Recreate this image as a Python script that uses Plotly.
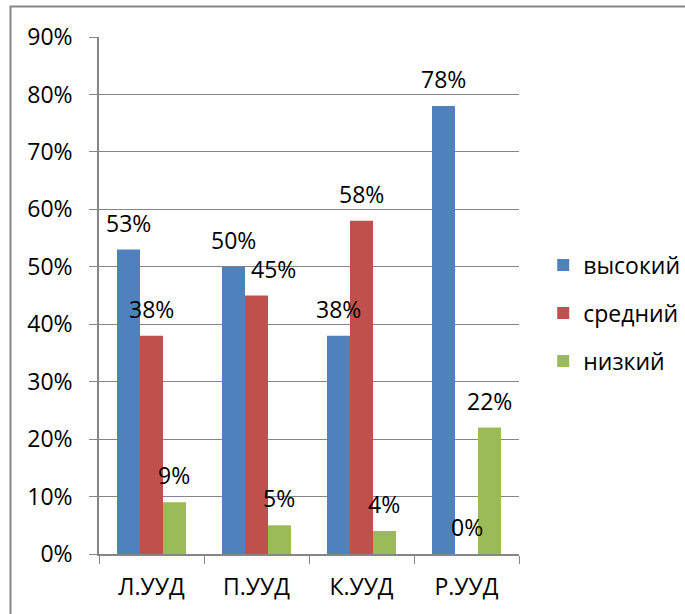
import plotly.graph_objects as go

categories = ["Л.УУД", "П.УУД", "К.УУД", "Р.УУД"]
vysokiy = [53, 50, 38, 78]
sredniy = [38, 45, 58, 0]
nizkiy = [9, 5, 4, 22]
series_names = ["высокий", "средний", "низкий"]

colors = ["#4F81BD", "#C0504D", "#9BBB59"]
font = "Open Sans"
grid = "#868686"

W, H = 685, 614
ml, mr, mt, mb = 99, 166, 37, 60
bargap = 0.343

fig = go.Figure()
for i, (name, vals) in enumerate(zip(series_names, [vysokiy, sredniy, nizkiy])):
    fig.add_trace(go.Bar(x=categories, y=vals, name=name, marker_color=colors[i],
                         marker_line_width=0, legendgroup=name))

# data labels sit well above each bar (Excel style)
plot_w = W - ml - mr
bw = plot_w / len(categories) * (1 - bargap) / 3
nudge = {("средний", "П.УУД"): 17}
for i, (name, vals) in enumerate(zip(series_names, [vysokiy, sredniy, nizkiy])):
    for c, v in zip(categories, vals):
        fig.add_annotation(x=c, y=v, text=f"{v}%", showarrow=False,
                           xshift=(i - 1) * bw + nudge.get((name, c), 0), yshift=27,
                           yanchor="middle", font=dict(family=font, size=23, color="black"))

# outer chart frame (only top and left edges visible)
fig.add_shape(type="rect", xref="paper", yref="paper",
              x0=(10.5 - ml) / plot_w, x1=1.5, y0=-0.3,
              y1=(H - mb - 6.5) / (H - mt - mb),
              line=dict(color=grid, width=2))

fig.update_layout(
    width=W, height=H,
    margin=dict(l=ml, r=mr, t=mt, b=mb),
    paper_bgcolor="white", plot_bgcolor="white",
    barmode="group", bargap=bargap, bargroupgap=0,
    font=dict(family=font, size=23, color="black"),
    showlegend=True,
    legend=dict(xref="container", yref="container", x=0.793, y=0.49,
                xanchor="left", yanchor="middle",
                tracegroupgap=15, font=dict(family=font, size=23),
                itemwidth=30),
)
fig.update_yaxes(range=[0, 90], dtick=10, ticksuffix="%", showgrid=True,
                 gridcolor=grid, gridwidth=1, showline=True, linecolor=grid,
                 linewidth=1.5, ticks="outside", ticklen=8, tickcolor=grid,
                 ticklabelstandoff=12, zeroline=False)
fig.update_xaxes(showline=True, linecolor=grid, linewidth=1.5, ticks="outside",
                 tickson="boundaries", ticklen=8, tickcolor=grid,
                 ticklabelstandoff=12)

fig.write_html("out.html", config={"displayModeBar": False},
               post_script="document.body.style.margin = '0';")
